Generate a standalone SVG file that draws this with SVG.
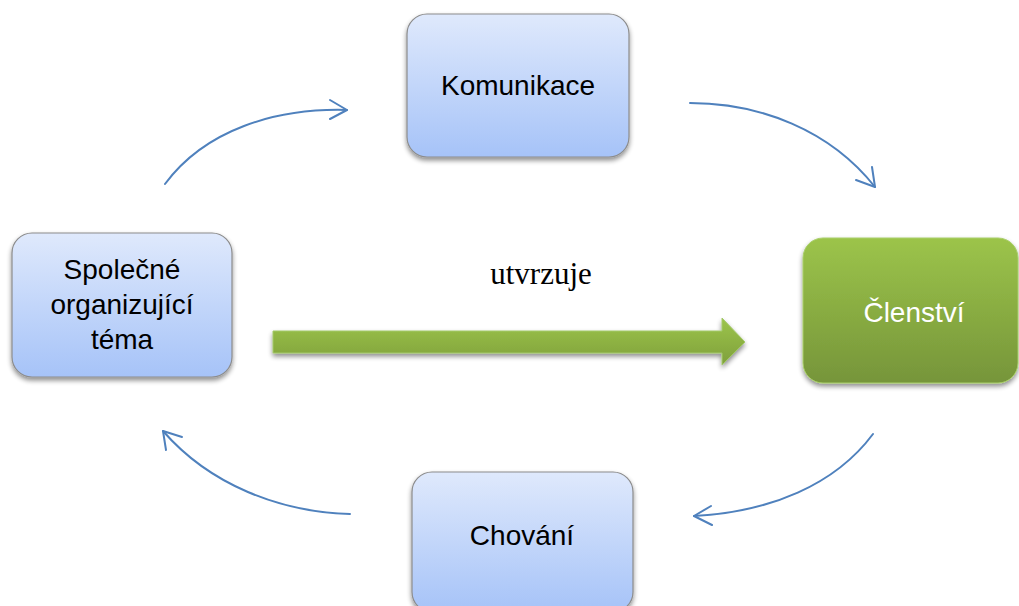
<svg xmlns="http://www.w3.org/2000/svg" width="1019" height="606" viewBox="0 0 1019 606">
<defs>
<linearGradient id="blue" x1="0" y1="0" x2="0" y2="1">
<stop offset="0" stop-color="#dfe9fc"/>
<stop offset="1" stop-color="#a6c3f8"/>
</linearGradient>
<linearGradient id="green" x1="0" y1="0" x2="0" y2="1">
<stop offset="0" stop-color="#9cc44a"/>
<stop offset="1" stop-color="#76953a"/>
</linearGradient>
<linearGradient id="greenArrow" x1="0" y1="0" x2="0" y2="1">
<stop offset="0" stop-color="#9cc44a"/>
<stop offset="1" stop-color="#7fa03c"/>
</linearGradient>
<filter id="shadow" x="-10%" y="-10%" width="120%" height="130%">
<feGaussianBlur in="SourceAlpha" stdDeviation="2.5"/>
<feOffset dx="0" dy="3" result="b"/>
<feComponentTransfer><feFuncA type="linear" slope="0.45"/></feComponentTransfer>
<feMerge><feMergeNode/><feMergeNode in="SourceGraphic"/></feMerge>
</filter>
</defs>
<style>
.box{fill:url(#blue);stroke:#8c8c8c;stroke-width:1.2;filter:url(#shadow)}
.gbox{fill:url(#green);stroke:#a9cf6a;stroke-width:1;filter:url(#shadow)}
.lbl{font-family:"Liberation Sans",Arial,sans-serif;font-size:28px;fill:#000;text-anchor:middle}
.wlbl{font-family:"Liberation Sans",Arial,sans-serif;font-size:28px;fill:#fff;text-anchor:middle}
.conn{fill:none;stroke:#4f81bd;stroke-width:2;stroke-linecap:round;stroke-linejoin:round}
.serif{font-family:"Liberation Serif","Times New Roman",serif;font-size:31px;fill:#000;text-anchor:middle}
</style>
<rect width="1019" height="606" fill="#fff"/>
<g id="connectors">
<path class="conn" d="M165,184 C205,130 275,108 347,110"/>
<path class="conn" d="M330,100 L347,110 L330,119"/>
<path class="conn" d="M690,103 C760,103 830,130 875,187"/>
<path class="conn" d="M872,167 L875,187 L856,180"/>
<path class="conn" d="M873,434 C835,485 770,512 694,516"/>
<path class="conn" d="M711,506 L694,516 L712,525"/>
<path class="conn" d="M350,514 C280,512 210,485 163,431"/>
<path class="conn" d="M182,437 L163,431 L166,450"/>
<path d="M273,331 L722,331 L722,318 L745,342 L722,365 L722,353 L273,353 Z" fill="url(#greenArrow)" stroke="#a3c96a" stroke-width="1" filter="url(#shadow)"/>
<text class="serif" x="541" y="284">utvrzuje</text>
</g>
<g id="komunikace">
<rect class="box" x="407" y="14" width="222" height="143" rx="20"/>
<text class="lbl" x="518" y="95">Komunikace</text>
</g>
<g id="clenstvi">
<rect class="gbox" x="803" y="238" width="215" height="145" rx="20"/>
<text class="wlbl" x="914" y="322">Členství</text>
</g>
<g id="spolecne">
<rect class="box" x="12" y="233" width="220" height="144" rx="20"/>
<text class="lbl" x="122" y="279">Společné</text>
<text class="lbl" x="122" y="314">organizující</text>
<text class="lbl" x="122" y="349">téma</text>
</g>
<g id="chovani">
<rect class="box" x="412" y="472" width="221" height="140" rx="20"/>
<text class="lbl" x="522" y="545">Chování</text>
</g>
</svg>
